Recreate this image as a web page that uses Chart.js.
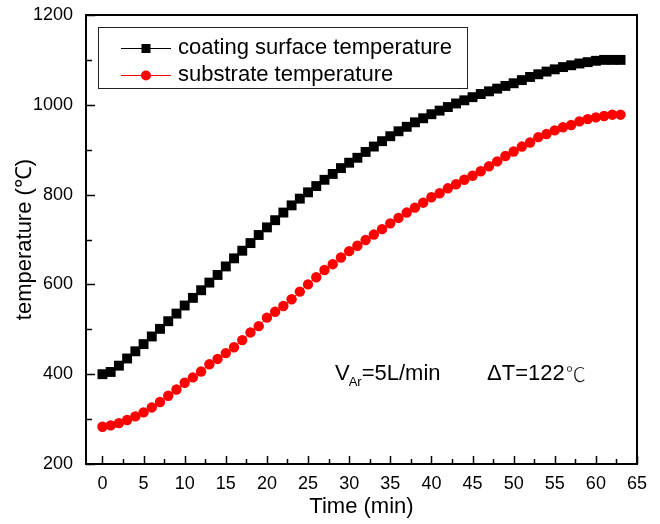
<!DOCTYPE html>
<html><head><meta charset="utf-8">
<script src="https://cdn.jsdelivr.net/npm/chart.js@4.4.1/dist/chart.umd.min.js"></script>
<style>html,body{margin:0;padding:0;background:#fff}#wrap{width:660px;height:524px}</style>
</head><body><div id="wrap"><canvas id="c" width="660" height="524"></canvas></div>
<script>
const timeMin = [0,1,2,3,4,5,6,7,8,9,10,11,12,13,14,15,16,17,18,19,20,21,22,23,24,25,26,27,28,29,30,31,32,33,34,35,36,37,38,39,40,41,42,43,44,45,46,47,48,49,50,51,52,53,54,55,56,57,58,59,60,61,62,63];
const coatingTemp = [400,405,419,435,451,467,484,501,518,535,553,570,587,604,621,640,658,675,692,710,727,743,760,776,791,805,819,833,846,859,871,882,895,907,919,930,941,951,961,970,979,987,995,1003,1010,1017,1024,1030,1036,1042,1048,1055,1062,1068,1074,1079,1084,1088,1092,1095,1098,1100,1100,1100];
const substrateTemp = [283,286,291,298,306,315,326,338,352,366,381,393,406,422,434,447,460,476,493,507,526,539,552,567,584,600,616,632,645,660,674,686,699,711,723,736,748,760,771,782,794,803,814,823,833,842,852,863,874,886,896,907,916,928,935,943,950,955,963,968,972,975,978,978];
const xTickValues = [0,5,10,15,20,25,30,35,40,45,50,55,60,65];
const yTickValues = [200,400,600,800,1000,1200];
const seriesNames = ['coating surface temperature','substrate temperature'];
const xTitle = 'Time (min)';
const yTitle = 'temperature (\u2103)';

const FONT = "'Liberation Sans', Arial, sans-serif";

const decor = {
  id: 'decor',
  beforeDatasetsDraw(chart) {
    const {ctx, chartArea: a, scales: {x, y}} = chart;
    ctx.save();
    ctx.strokeStyle = '#000';
    ctx.lineWidth = 1.5;
    ctx.beginPath();
    xTickValues.forEach((v, i) => {
      const px = Math.round(x.getPixelForValue(v)) + 0.5;
      ctx.moveTo(px, a.bottom); ctx.lineTo(px, a.bottom - 8);
      if (i < xTickValues.length - 1) {
        const mv = (v + xTickValues[i + 1]) / 2;
        const mpx = Math.round(x.getPixelForValue(mv)) + 0.5;
        ctx.moveTo(mpx, a.bottom); ctx.lineTo(mpx, a.bottom - 5);
      }
    });
    yTickValues.forEach((v, i) => {
      const py = Math.round(y.getPixelForValue(v)) + 0.5;
      ctx.moveTo(a.left, py); ctx.lineTo(a.left + 9, py);
      if (i < yTickValues.length - 1) {
        const mv = (v + yTickValues[i + 1]) / 2;
        const mpy = Math.round(y.getPixelForValue(mv)) + 0.5;
        ctx.moveTo(a.left, mpy); ctx.lineTo(a.left + 6, mpy);
      }
    });
    ctx.stroke();
    ctx.lineWidth = 2;
    ctx.strokeRect(a.left, a.top, a.right - a.left, a.bottom - a.top);
    ctx.restore();
  },
  afterDraw(chart) {
    const {ctx, chartArea: a} = chart;
    ctx.save();
    const bx = a.left + 12, by = a.top + 12, bw = 369, bh = 61;
    ctx.strokeStyle = '#222';
    ctx.lineWidth = 1;
    ctx.strokeRect(bx + 0.5, by + 0.5, bw, bh);
    const rows = [
      {name: seriesNames[0], color: '#000', style: 'rect', cy: by + 21},
      {name: seriesNames[1], color: '#ff0000', style: 'circle', cy: by + 48}
    ];
    rows.forEach(r => {
      ctx.strokeStyle = r.color; ctx.fillStyle = r.color; ctx.lineWidth = 1;
      ctx.beginPath(); ctx.moveTo(bx + 23, r.cy + 0.5); ctx.lineTo(bx + 73, r.cy + 0.5); ctx.stroke();
      const mx = bx + 48;
      if (r.style === 'rect') { ctx.fillRect(mx - 4.5, r.cy - 4, 9, 9); }
      else { ctx.beginPath(); ctx.arc(mx, r.cy + 0.5, 5, 0, Math.PI * 2); ctx.fill(); }
      ctx.fillStyle = '#000';
      ctx.font = '22px ' + FONT;
      ctx.textBaseline = 'middle';
      ctx.textAlign = 'left';
      ctx.fillText(r.name, bx + 80, r.cy);
    });
    ctx.fillStyle = '#000';
    ctx.textBaseline = 'middle';
    const ty = a.top + 359;
    let tx = 335;
    ctx.font = '22px ' + FONT;
    ctx.fillText('V', tx, ty);
    tx += ctx.measureText('V').width - 1;
    ctx.font = '13px ' + FONT;
    ctx.fillText('Ar', tx, ty + 8);
    tx += ctx.measureText('Ar').width;
    ctx.font = '22px ' + FONT;
    ctx.fillText('=5L/min', tx, ty);
    tx = 487;
    ctx.fillText('\u0394T=122', tx, ty);
    tx += ctx.measureText('\u0394T=122').width + 1;
    ctx.font = "300 20px 'Noto Sans CJK SC', sans-serif";
    ctx.fillStyle = '#222';
    ctx.fillText('\u2103', tx, ty);
    ctx.restore();
  }
};

new Chart(document.getElementById('c'), {
  type: 'line',
  data: {
    labels: timeMin,
    datasets: [
      {label: seriesNames[0], data: timeMin.map((t, i) => ({x: t, y: coatingTemp[i]})),
       borderColor: '#000', backgroundColor: '#000', borderWidth: 1, pointStyle: 'rect',
       pointRadius: 7, pointBorderWidth: 0, pointBackgroundColor: '#000', tension: 0},
      {label: seriesNames[1], data: timeMin.map((t, i) => ({x: t, y: substrateTemp[i]})),
       borderColor: '#ff0000', backgroundColor: '#ff0000', borderWidth: 1, pointStyle: 'circle',
       pointRadius: 5.2, pointBorderWidth: 0, pointBackgroundColor: '#ff0000', tension: 0}
    ]
  },
  options: {
    responsive: false,
    animation: false,
    layout: {padding: {top: 15, right: 23, left: 0, bottom: 0}},
    plugins: {legend: {display: false}, tooltip: {enabled: false}},
    scales: {
      x: {
        type: 'linear', min: -2, max: 65,
        afterBuildTicks: s => { s.ticks = xTickValues.map(v => ({value: v})); },
        afterFit: s => { s.height = 60; s.paddingLeft = 0; s.paddingRight = 0; },
        grid: {display: false, drawTicks: false},
        border: {display: false},
        ticks: {color: '#000', font: {family: FONT, size: 18}, padding: 9, maxRotation: 0, autoSkip: false, callback: v => String(v)},
        title: {display: true, text: xTitle, color: '#000', font: {family: FONT, size: 22}, padding: {top: 0, bottom: 4}}
      },
      y: {
        type: 'linear', min: 200, max: 1200,
        afterBuildTicks: s => { s.ticks = yTickValues.map(v => ({value: v})); },
        afterFit: s => { s.width = 86; s.paddingTop = 0; s.paddingBottom = 0; },
        grid: {display: false, drawTicks: false},
        border: {display: false},
        ticks: {color: '#000', font: {family: FONT, size: 18}, padding: 13, autoSkip: false, callback: v => String(v)},
        title: {display: true, text: yTitle, color: '#000', font: {family: FONT, size: 22}, padding: {top: 12, bottom: 0}}
      }
    }
  },
  plugins: [decor]
});
</script></body></html>
